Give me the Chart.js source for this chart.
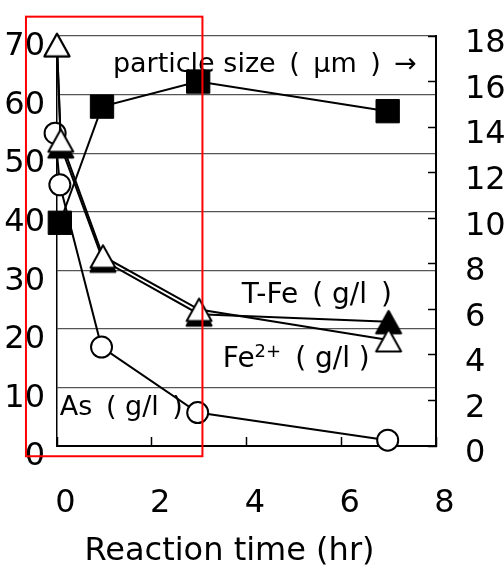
<!DOCTYPE html>
<html><head><meta charset="utf-8">
<script src="https://cdn.jsdelivr.net/npm/chart.js@4.4.1/dist/chart.umd.min.js"></script>
<style>html,body{margin:0;padding:0;background:#fff}</style>
</head><body>
<canvas id="c" width="504" height="570"></canvas>
<script>
// ---- data ----
const xTicks = [0, 2, 4, 6, 8];
const leftTicks = [0, 10, 20, 30, 40, 50, 60, 70];
const rightTicks = [0, 2, 4, 6, 8, 10, 12, 14, 16, 18];

const feTime = [0, 0.08, 0.97, 3, 7];
const fe2Values = [68.5, 52.2, 32.4, 23.3, 18.1];   // Fe2+ (g/l), open triangles
const tFeValues = [68.5, 51.2, 31.7, 22.5, 21.2];   // T-Fe (g/l), filled triangles

const asTime = [-0.04, 0.06, 0.94, 2.97, 6.98];
const asValues = [53.4, 44.6, 16.9, 5.7, 1.0];      // As (g/l), open circles

const sizeTime = [0.06, 0.95, 2.98, 6.98];
const sizeValues = [9.8, 14.9, 16.0, 14.7];         // particle size (um), filled squares, right axis

const xLabel = 'Reaction time (hr)';
const notes = [
  { parts: [{ t: 'particle size\u2002(\u2002µm\u2002)\u2002→' }], x: 1.18, y: 63.9, big: 27 },
  { parts: [{ t: 'T-Fe\u2002( g/l\u2002)' }], x: 3.9, y: 24.4, big: 28 },
  { parts: [{ t: 'Fe' }, { t: '2+', sup: true }, { t: '\u2002( g/l )' }], x: 3.5, y: 13.5, big: 28 },
  { parts: [{ t: 'As\u2002( g/l\u2002)' }], x: 0.06, y: 5.3, big: 27 }
];
const box = { x0: -0.655, x1: 3.07, y0: -1.75, y1: 73.3 };

// ---- rendering ----
const FONT = 'DejaVu Sans';
Chart.defaults.font.family = FONT;
Chart.defaults.color = '#000';

function triCanvas(fill) {
  const c = document.createElement('canvas');
  c.width = 30; c.height = 28;
  const g = c.getContext('2d');
  g.beginPath();
  g.moveTo(15, 3); g.lineTo(27.5, 25.5); g.lineTo(2.5, 25.5); g.closePath();
  g.fillStyle = fill; g.fill();
  g.lineWidth = 2; g.strokeStyle = '#000'; g.lineJoin = 'round'; g.stroke();
  return c;
}
const pts = (xs, ys) => xs.map((x, i) => ({ x: x, y: ys[i] }));

const common = { borderColor: '#000', borderWidth: 2, tension: 0, clip: false, pointBorderColor: '#000' };

const datasets = [
  Object.assign({}, common, { label: 'Fe2+', data: pts(feTime, fe2Values), yAxisID: 'y',
    pointStyle: triCanvas('#fff') }),
  Object.assign({}, common, { label: 'T-Fe', data: pts(feTime, tFeValues), yAxisID: 'y',
    pointStyle: triCanvas('#000') }),
  Object.assign({}, common, { label: 'As', data: pts(asTime, asValues), yAxisID: 'y',
    pointStyle: 'circle', pointRadius: 10.5, pointBorderWidth: 2, pointBackgroundColor: '#fff' }),
  Object.assign({}, common, { label: 'particle size', data: pts(sizeTime, sizeValues), yAxisID: 'y2',
    pointStyle: 'rect', pointRadius: 16.5, pointBorderWidth: 1, pointBackgroundColor: '#000' })
];

const notesPlugin = {
  id: 'notes',
  beforeDatasetsDraw(chart) {
    const ctx = chart.ctx, xs = chart.scales.x, ys = chart.scales.y;
    ctx.save();
    ctx.fillStyle = '#000';
    ctx.textBaseline = 'alphabetic';
    notes.forEach(n => {
      let px = xs.getPixelForValue(n.x);
      const py = ys.getPixelForValue(n.y);
      n.parts.forEach(p => {
        ctx.font = (p.sup ? 18 : n.big) + 'px ' + FONT;
        ctx.fillText(p.t, px, p.sup ? py - 10 : py);
        px += ctx.measureText(p.t).width;
      });
    });
    ctx.restore();
  },
  afterDraw(chart) {
    const ctx = chart.ctx, xs = chart.scales.x, ys = chart.scales.y, a = chart.chartArea;
    ctx.save();
    ctx.font = '32px ' + FONT;
    ctx.textAlign = 'center';
    ctx.textBaseline = 'alphabetic';
    ctx.fillStyle = '#000';
    ctx.fillText(xLabel, (a.left + a.right) / 2 - 17, chart.height - 10);
    ctx.strokeStyle = '#ff0000';
    ctx.lineWidth = 2;
    const l = xs.getPixelForValue(box.x0), r = xs.getPixelForValue(box.x1);
    const t = ys.getPixelForValue(box.y1), b = ys.getPixelForValue(box.y0);
    ctx.strokeRect(l, t, r - l, b - t);
    ctx.restore();
  }
};

const tickFont = { family: FONT, size: 32 };
const noPadV = s => { s.paddingTop = 0; s.paddingBottom = 0; };
const noPadH = s => { s.paddingLeft = 0; s.paddingRight = 0; };

new Chart(document.getElementById('c'), {
  type: 'line',
  data: { datasets: datasets },
  options: {
    responsive: false, animation: false, events: [],
    layout: { padding: { top: 36, left: 0, right: 0, bottom: 0 } },
    plugins: { legend: { display: false }, tooltip: { enabled: false } },
    scales: {
      x: {
        type: 'linear', position: 'bottom', min: 0, max: 8,
        afterBuildTicks: s => { s.ticks = xTicks.map(v => ({ value: v })); },
        afterFit: s => { s.height = 124; noPadH(s); },
        ticks: { font: tickFont, color: '#000', padding: 47, labelOffset: 8.5, maxRotation: 0, autoSkip: false },
        grid: { drawOnChartArea: false, drawTicks: true, tickLength: -9, tickColor: '#000', tickWidth: 1.5 },
        border: { color: '#000', width: 2 }
      },
      y: {
        type: 'linear', position: 'left', min: 0, max: 70,
        afterBuildTicks: s => { s.ticks = leftTicks.map(v => ({ value: v })); },
        afterFit: s => { s.width = 57; noPadV(s); },
        ticks: { font: tickFont, color: '#000', padding: 12, labelOffset: 11 },
        grid: { color: '#555', lineWidth: 1.2, drawTicks: false },
        border: { color: '#000', width: 1.5 }
      },
      y2: {
        type: 'linear', position: 'right', min: 0, max: 18,
        afterBuildTicks: s => { s.ticks = rightTicks.map(v => ({ value: v })); },
        afterFit: s => { s.width = 68; noPadV(s); },
        ticks: { font: tickFont, color: '#000', padding: 37, labelOffset: 8 },
        grid: { drawOnChartArea: false, drawTicks: true, tickLength: -8, tickColor: '#000', tickWidth: 1.5 },
        border: { color: '#000', width: 2 }
      }
    }
  },
  plugins: [notesPlugin]
});
</script>
</body></html>
